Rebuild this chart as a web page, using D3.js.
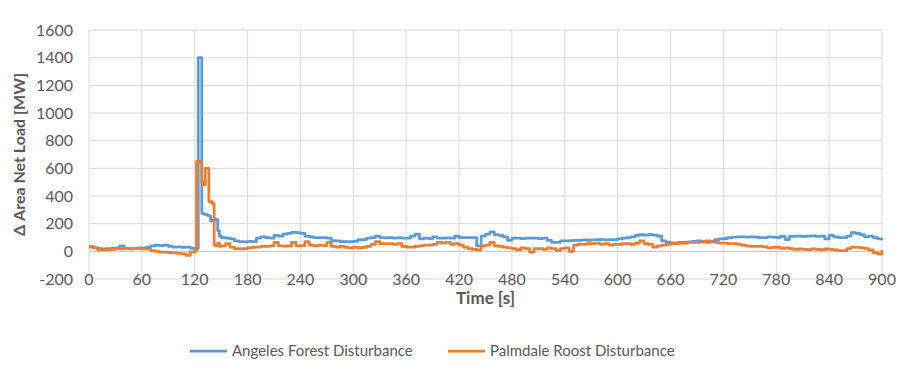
<!DOCTYPE html>
<html>
<head>
<meta charset="utf-8">
<script src="https://cdn.jsdelivr.net/npm/d3@7"></script>
<style>
  html, body { margin: 0; padding: 0; background: #fff; }
  svg { display: block; }
  text { font-family: Lato, "Open Sans", sans-serif; fill: #595959; }
</style>
</head>
<body>
<svg id="chart" width="912" height="373"></svg>
<script>
// Sample times [s]
const timeS = [
  0,5,10,15,20,25,30,35,40,45,50,55,60,65,70,75,80,85,90,95,100,105,110,115,120,
  122,124,126,128,130,132,134,136,138,140,142,144,146,148,150,
  155,160,165,170,175,180,185,190,195,200,205,210,215,220,225,230,235,240,245,250,
  255,260,265,270,275,280,285,290,295,300,305,310,315,320,325,330,335,340,345,350,
  355,360,365,370,375,380,385,390,395,400,405,410,415,420,425,430,435,440,445,450,
  455,460,465,470,475,480,485,490,495,500,505,510,515,520,525,530,535,540,545,550,
  555,560,565,570,575,580,585,590,595,600,605,610,615,620,625,630,635,640,645,650,
  655,660,665,670,675,680,685,690,695,700,705,710,715,720,725,730,735,740,745,750,
  755,760,765,770,775,780,785,790,795,800,805,810,815,820,825,830,835,840,845,850,
  855,860,865,870,875,880,885,890,895,900
];

// Angeles Forest Disturbance, change in area net load [MW]
const angelesForest = [
  35,25,20,18,20,22,25,40,22,20,22,25,22,28,40,45,42,45,35,30,32,28,30,22,18,
  20,1400,1400,275,270,265,260,255,220,225,235,230,150,110,100,
  95,90,75,70,68,72,70,95,105,100,95,115,110,125,130,137,135,130,110,105,
  100,100,100,95,78,75,70,70,70,72,85,85,95,100,110,100,98,100,95,100,
  95,95,110,125,90,95,92,105,95,95,98,95,110,100,100,100,100,40,110,125,
  140,120,115,105,80,95,95,92,95,95,95,92,95,80,65,65,75,75,78,80,
  80,82,80,82,85,85,82,85,85,90,95,100,105,115,120,118,120,118,110,75,
  65,62,62,65,65,68,72,75,70,65,72,85,90,92,100,102,105,105,102,105,
  102,100,100,105,102,100,108,85,108,110,110,108,110,112,108,110,90,115,105,100,
  100,110,135,130,120,105,110,100,90,95
];

// Palmdale Roost Disturbance, change in area net load [MW]
const palmdaleRoost = [
  30,25,12,10,12,15,20,18,22,18,20,22,18,20,5,0,-5,-5,-10,-12,-15,-18,-30,-5,0,
  650,650,640,500,480,600,600,360,360,345,45,40,60,35,40,
  55,30,20,18,20,25,30,30,35,35,40,65,40,38,40,65,40,42,70,45,
  40,45,42,65,35,30,35,28,25,30,25,28,35,50,70,55,55,55,50,55,
  35,30,30,35,40,45,45,50,65,60,65,50,55,45,30,20,15,10,40,45,
  65,40,35,30,25,20,10,25,20,-5,20,20,15,25,20,5,20,25,0,45,
  50,50,55,55,60,50,55,45,50,50,55,55,50,60,75,55,50,30,40,45,
  50,55,55,60,60,65,65,65,70,75,70,65,60,60,55,55,50,45,40,35,
  35,35,32,25,28,28,22,25,20,15,18,15,12,18,15,12,18,15,10,5,
  5,20,30,28,25,20,10,-10,-20,10
];

const yTicks = [-200,0,200,400,600,800,1000,1200,1400,1600];
const xTicks = [0,60,120,180,240,300,360,420,480,540,600,660,720,780,840,900];

const seriesNames = ["Angeles Forest Disturbance", "Palmdale Roost Disturbance"];
const seriesColors = ["#5B9BD5", "#ED7D31"];

const svg = d3.select("#chart");

const x = d3.scaleLinear().domain([0, 900]).range([89, 882]);
const y = d3.scaleLinear().domain([-200, 1600]).range([279, 30]);

// grid
const grid = svg.append("g");
grid.selectAll("line.h").data(yTicks).join("line")
  .attr("x1", x(0)).attr("x2", x(900))
  .attr("y1", d => y(d)).attr("y2", d => y(d))
  .attr("stroke", d => d === 0 ? "#BFBFBF" : "#D9D9D9")
  .attr("stroke-width", 1);
grid.selectAll("line.v").data(xTicks).join("line")
  .attr("x1", d => x(d)).attr("x2", d => x(d))
  .attr("y1", y(1600)).attr("y2", y(-200))
  .attr("stroke", "#D9D9D9")
  .attr("stroke-width", 1);

// y tick labels
svg.append("g").selectAll("text").data(yTicks).join("text")
  .attr("x", 73).attr("y", d => y(d))
  .attr("dy", "0.35em")
  .attr("text-anchor", "end")
  .attr("font-size", 16)
  .text(d => d);

// x tick labels
svg.append("g").selectAll("text").data(xTicks).join("text")
  .attr("x", d => x(d)).attr("y", 279)
  .attr("dy", "0.35em")
  .attr("text-anchor", "middle")
  .attr("font-size", 16)
  .text(d => d);

// axis titles
svg.append("text")
  .attr("transform", `translate(19,${(y(1600) + y(-200)) / 2}) rotate(-90)`)
  .attr("text-anchor", "middle")
  .attr("dy", "0.35em")
  .attr("font-size", 16)
  .attr("font-weight", "bold")
  .text("Δ Area Net Load [MW]");

svg.append("text")
  .attr("x", (x(0) + x(900)) / 2).attr("y", 298)
  .attr("dy", "0.35em")
  .attr("text-anchor", "middle")
  .attr("font-size", 17)
  .attr("font-weight", "bold")
  .text("Time [s]");

// series lines
const series = [angelesForest, palmdaleRoost];
const line = d3.line()
  .x((d, i) => x(timeS[i]))
  .y(d => y(d))
  .curve(d3.curveStepAfter);

svg.append("g").selectAll("path").data(series).join("path")
  .attr("d", d => line(d))
  .attr("fill", "none")
  .attr("stroke", (d, i) => seriesColors[i])
  .attr("stroke-width", 2.75)
  .attr("stroke-linejoin", "round");

// legend
const legendX = [190, 448];
const leg = svg.append("g").selectAll("g").data(seriesNames).join("g")
  .attr("transform", (d, i) => `translate(${legendX[i]},351)`);
leg.append("line")
  .attr("x1", 0).attr("x2", 37).attr("y1", 0).attr("y2", 0)
  .attr("stroke", (d, i) => seriesColors[i])
  .attr("stroke-width", 2.75);
leg.append("text")
  .attr("x", 42).attr("y", 0).attr("dy", "0.35em")
  .attr("font-size", 15)
  .text(d => d);
</script>
</body>
</html>
